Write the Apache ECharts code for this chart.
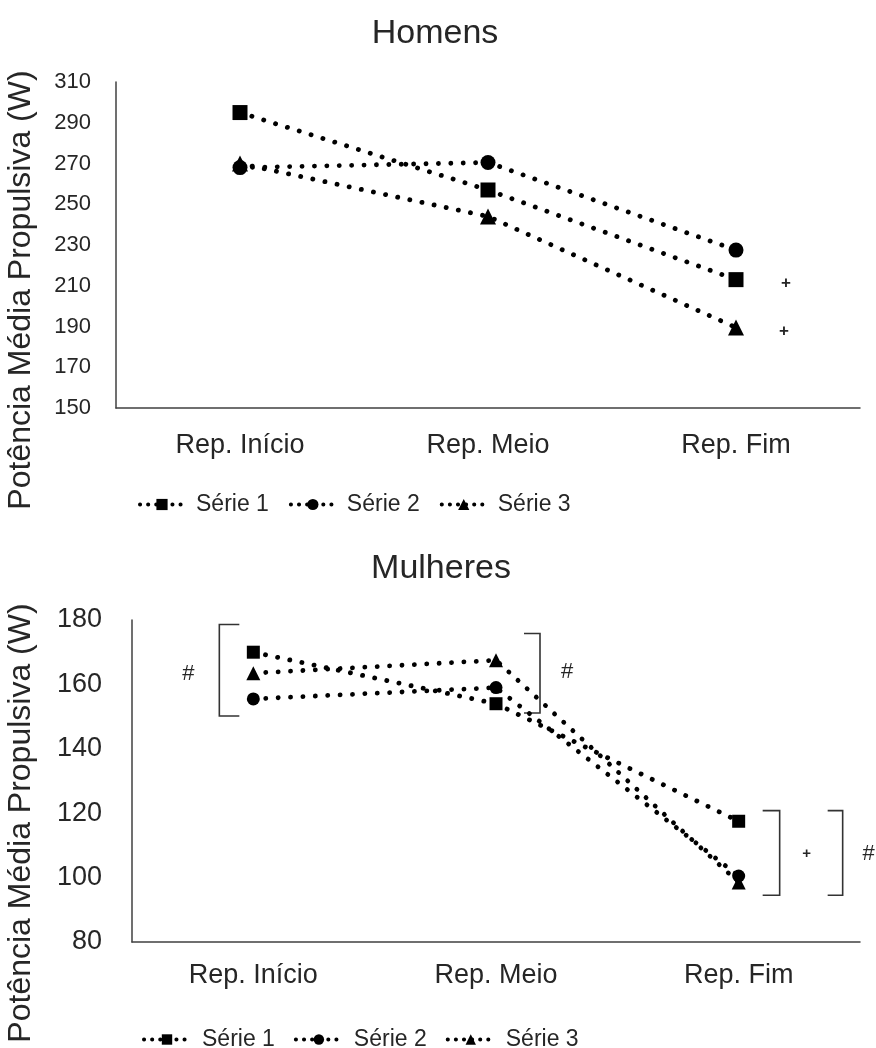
<!DOCTYPE html>
<html>
<head>
<meta charset="utf-8">
<script src="https://cdn.jsdelivr.net/npm/echarts@6/dist/echarts.min.js"></script>
<style>html,body{margin:0;padding:0;background:#fff}#c{width:876px;height:1048px}</style>
</head>
<body>
<div id="c"></div>
<script>
// ---- data ----
const categories = ['Rep. Início', 'Rep. Meio', 'Rep. Fim'];
const seriesNames = ['Série 1', 'Série 2', 'Série 3'];
const homensS1 = [295, 257, 213];
const homensS2 = [268, 270.5, 227.5];
const homensS3 = [270, 244, 189.5];
const mulheresS1 = [170, 154, 117.5];
const mulheresS2 = [155.5, 159, 100.5];
const mulheresS3 = [163.5, 167.5, 98.5];
const homensAxis = { min: 150, max: 310, interval: 20 };
const mulheresAxis = { min: 80, max: 180, interval: 20 };
const yAxisTitle = 'Potência Média Propulsiva (W)';
// annotations: [category index, value, text]
const homensMarks = [[2, 211, '+'], [2, 187.5, '+']];
const mulheresMarks = [[0, 163.2, '#'], [1, 164, '#'], [2, 107.5, '+'], [2, 107.5, '#']];
// brackets: [category index, top value, bottom value]
const mulheresBrackets = [[0, 178.6, 150.2], [1, 175.8, 151.1], [2, 120.8, 94.5], [2, 120.8, 94.5]];

// ---- layout / style (not data) ----
const homensMarkDx = [50, 48];
const homensMarkSize = [17, 17];
const mulheresMarkDx = [-65, 71, 68, 130];
const mulheresMarkSize = [22, 22, 15, 22];
const bracketDx = [-34, 44, 41, 104];
const bracketArm = [20, -16, -17, -15];

const FONT_NAME = 'Liberation Sans';
const FONT = 'Liberation Sans, Arial, sans-serif';
const TXT = '#262626';
const AX = '#404040';
const symbols = ['rect', 'circle', 'triangle'];

const chart = echarts.init(document.getElementById('c'), null, { renderer: 'canvas' });

function lineSeries(name, data, idx, gi, size) {
  return {
    name: name, type: 'line', xAxisIndex: gi, yAxisIndex: gi, data: data,
    symbol: symbols[idx], symbolSize: size,
    itemStyle: { color: '#000' },
    lineStyle: { color: '#000', width: 4.8, type: [0.1, 12.3], cap: 'round' },
    emphasis: { disabled: true }, silent: true, animation: false
  };
}
function markSeries(marks, dx, gi, sizes) {
  return {
    type: 'custom', name: 'marks' + gi, xAxisIndex: gi, yAxisIndex: gi, clip: false, silent: true,
    animation: false, encode: { x: 0, y: 1 },
    data: marks,
    renderItem: function (params, api) {
      const p = api.coord([api.value(0), api.value(1)]);
      const i = params.dataIndex;
      const t = marks[i][2];
      const w = t === '+' ? 'bold' : 'normal';
      return { type: 'text', x: p[0] + dx[i], y: p[1],
        style: { text: t, font: w + ' ' + sizes[i] + 'px "' + FONT_NAME + '"',
          fontSize: sizes[i], fontFamily: FONT_NAME, fontWeight: w,
          fill: TXT, align: 'center', verticalAlign: 'middle' } };
    }
  };
}
function bracketSeries(br, gi) {
  return {
    type: 'custom', name: 'brackets' + gi, xAxisIndex: gi, yAxisIndex: gi, clip: false, silent: true,
    animation: false, encode: { x: 0, y: [1, 2] },
    data: br,
    renderItem: function (params, api) {
      const i = params.dataIndex;
      const a = api.coord([api.value(0), api.value(1)]);
      const b = api.coord([api.value(0), api.value(2)]);
      const x = a[0] + bracketDx[i];
      const arm = bracketArm[i];
      return { type: 'polyline',
        shape: { points: [[x + arm, a[1]], [x, a[1]], [x, b[1]], [x + arm, b[1]]] },
        style: { stroke: '#333', lineWidth: 1.6, fill: null } };
    }
  };
}

const xAxisCommon = {
  type: 'category', data: categories, boundaryGap: true,
  axisLine: { show: true, lineStyle: { color: AX, width: 1.5 } },
  axisTick: { show: false },
  splitLine: { show: false }
};
const legendLine = { width: 4, type: [0.1, 8], cap: 'round', color: '#000' };

chart.setOption({
  animation: false,
  backgroundColor: '#fff',
  title: [
    { text: 'Homens', left: 430, top: 12, textAlign: 'center',
      textStyle: { fontFamily: FONT, fontSize: 34, fontWeight: 'normal', color: TXT } },
    { text: 'Mulheres', left: 436, top: 547, textAlign: 'center',
      textStyle: { fontFamily: FONT, fontSize: 34, fontWeight: 'normal', color: TXT } }
  ],
  legend: [
    { data: seriesNames, left: 133, top: 488, itemWidth: 44, itemHeight: 14, itemGap: 20,
      lineStyle: legendLine,
      textStyle: { fontFamily: FONT, fontSize: 23, color: TXT, padding: [0, 0, 0, 7] }, selectedMode: false },
    { data: seriesNames, left: 137, top: 1023, itemWidth: 46, itemHeight: 13, itemGap: 19,
      lineStyle: legendLine,
      textStyle: { fontFamily: FONT, fontSize: 23, color: TXT, padding: [0, 0, 0, 7] }, selectedMode: false }
  ],
  grid: [
    { left: 116, right: 16, top: 82, height: 326 },
    { left: 132, right: 16, top: 620, height: 322 }
  ],
  xAxis: [
    Object.assign({}, xAxisCommon, { gridIndex: 0,
      axisLabel: { fontFamily: FONT, fontSize: 27, color: TXT, margin: 24 } }),
    Object.assign({}, xAxisCommon, { gridIndex: 1,
      axisLabel: { fontFamily: FONT, fontSize: 27, color: TXT, margin: 20 } })
  ],
  yAxis: [
    { type: 'value', gridIndex: 0, min: homensAxis.min, max: homensAxis.max, interval: homensAxis.interval,
      axisLine: { show: true, lineStyle: { color: AX, width: 1.5 } }, axisTick: { show: false },
      splitLine: { show: false },
      axisLabel: { fontFamily: FONT, fontSize: 22, color: TXT, margin: 25 } },
    { type: 'value', gridIndex: 1, min: mulheresAxis.min, max: mulheresAxis.max, interval: mulheresAxis.interval,
      axisLine: { show: true, lineStyle: { color: AX, width: 1.5 } }, axisTick: { show: false },
      splitLine: { show: false },
      axisLabel: { fontFamily: FONT, fontSize: 27, color: TXT, margin: 30 } }
  ],
  graphic: [
    { type: 'text', x: 21, y: 290, rotation: Math.PI / 2,
      style: { text: yAxisTitle, fontFamily: FONT, fontSize: 32, fill: TXT, align: 'center', verticalAlign: 'middle' } },
    { type: 'text', x: 21, y: 823, rotation: Math.PI / 2,
      style: { text: yAxisTitle, fontFamily: FONT, fontSize: 32, fill: TXT, align: 'center', verticalAlign: 'middle' } }
  ],
  series: [
    lineSeries(seriesNames[0], homensS1, 0, 0, 15),
    lineSeries(seriesNames[1], homensS2, 1, 0, 15),
    lineSeries(seriesNames[2], homensS3, 2, 0, 16),
    lineSeries(seriesNames[0], mulheresS1, 0, 1, 13),
    lineSeries(seriesNames[1], mulheresS2, 1, 1, 13),
    lineSeries(seriesNames[2], mulheresS3, 2, 1, 14),
    markSeries(homensMarks, homensMarkDx, 0, homensMarkSize),
    markSeries(mulheresMarks, mulheresMarkDx, 1, mulheresMarkSize),
    bracketSeries(mulheresBrackets, 1)
  ]
});
</script>
</body>
</html>
